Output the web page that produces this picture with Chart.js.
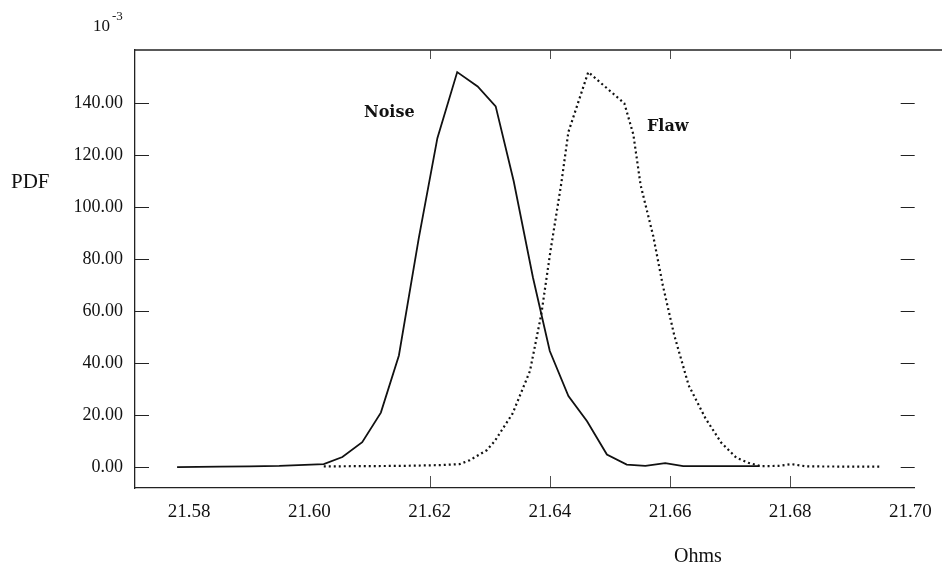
<!DOCTYPE html>
<html>
<head>
<meta charset="utf-8">
<script src="https://cdn.jsdelivr.net/npm/chart.js@4.4.1/dist/chart.umd.min.js"></script>
<style>
  html, body { margin: 0; padding: 0; background: #fff; }
  #wrap { width: 945px; height: 575px; }
</style>
</head>
<body>
<div id="wrap"><canvas id="chart-pdf" width="945" height="575"></canvas></div>
<script>
// Valeurs (PDF x 10^-3 en fonction de la résistance en ohms)
const noiseX = [21.578, 21.585, 21.590, 21.595, 21.6024, 21.6055, 21.6088, 21.6119, 21.6149, 21.6182,
                21.6213, 21.6246, 21.6280, 21.6310, 21.6340, 21.6372, 21.6400, 21.6431, 21.6462, 21.6495,
                21.6528, 21.6559, 21.6592, 21.6622, 21.6688, 21.6749];
const noiseY = [0, 0.2, 0.3, 0.5, 1.2, 3.9, 9.6, 21, 43, 88,
                126.6, 152, 146.5, 138.8, 110, 73, 44.7, 27.4, 17.7, 4.9,
                1.0, 0.5, 1.6, 0.4, 0.4, 0.4];

const flawX = [21.6024, 21.608, 21.615, 21.6217, 21.625, 21.6267, 21.6295, 21.6308, 21.6338, 21.6367,
               21.6386, 21.6401, 21.6419, 21.6431, 21.6464, 21.6524, 21.6539, 21.6551, 21.6572, 21.6588,
               21.6607, 21.6631, 21.6659, 21.6685, 21.6710, 21.6730, 21.6751, 21.6780, 21.6802, 21.6827,
               21.6950];
const flawY = [0.3, 0.4, 0.5, 0.8, 1.2, 2.7, 6.5, 9.9, 20.6, 37,
               59, 83, 109, 129, 152, 140, 128, 108.6, 89, 70,
               50.8, 31.5, 18.8, 9.5, 3.7, 1.7, 0.4, 0.5, 1.2, 0.3,
               0.2];

const xTicks = [21.58, 21.60, 21.62, 21.64, 21.66, 21.68, 21.70];
const yTicks = [0, 20, 40, 60, 80, 100, 120, 140];
const innerXTicks = [21.62, 21.64, 21.66, 21.68];

const SERIF = '"Liberation Serif", "Times New Roman", serif';

function toPoints(xs, ys) {
  return xs.map((x, i) => ({ x: x, y: ys[i] }));
}

// Cadre, graduations intérieures et annotations
const framePlugin = {
  id: 'frame',
  afterDraw(chart) {
    const ctx = chart.ctx;
    const area = chart.chartArea;
    const xs = chart.scales.x;
    const ys = chart.scales.y;
    ctx.save();
    ctx.strokeStyle = '#222';
    ctx.lineWidth = 1.3;

    // ligne du haut
    ctx.beginPath();
    ctx.moveTo(area.left, area.top);
    ctx.lineTo(942, area.top);
    ctx.stroke();

    // graduations gauche (intérieures) et droite
    ctx.lineWidth = 1.2;
    yTicks.forEach(v => {
      const py = Math.round(ys.getPixelForValue(v)) + 0.5;
      ctx.beginPath();
      ctx.moveTo(area.left, py);
      ctx.lineTo(area.left + 14, py);
      ctx.moveTo(area.right - 14, py);
      ctx.lineTo(area.right, py);
      ctx.stroke();
    });

    // graduations x, en bas et en haut
    ctx.lineWidth = 0.8;
    innerXTicks.forEach(v => {
      const px = Math.round(xs.getPixelForValue(v)) + 0.5;
      ctx.beginPath();
      ctx.moveTo(px, area.bottom);
      ctx.lineTo(px, area.bottom - 12);
      ctx.moveTo(px, area.top);
      ctx.lineTo(px, area.top + 9);
      ctx.stroke();
    });

    // textes
    ctx.fillStyle = '#111';
    ctx.textBaseline = 'middle';
    ctx.textAlign = 'left';
    ctx.font = '21px ' + SERIF;
    ctx.fillText('PDF', 11, 182);

    ctx.font = '17px ' + SERIF;
    ctx.fillText('10', 93, 27);
    ctx.font = '13px ' + SERIF;
    ctx.fillText('-3', 112, 17);

    ctx.font = '20px ' + SERIF;
    ctx.textAlign = 'center';
    ctx.fillText('Ohms', 698, 557);

    ctx.font = 'bold 16px "DejaVu Serif", serif';
    ctx.textAlign = 'left';
    ctx.fillText('Noise', 364, 113);
    ctx.fillText('Flaw', 647, 127);
    ctx.restore();
  }
};

const ctxPdf = document.getElementById('chart-pdf');
new Chart(ctxPdf, {
  type: 'line',
  data: {
    datasets: [{
      label: 'Noise',
      data: toPoints(noiseX, noiseY),
      borderColor: '#111',
      borderWidth: 1.8,
      pointRadius: 0,
      tension: 0,
      fill: false
    }, {
      label: 'Flaw',
      data: toPoints(flawX, flawY),
      borderColor: '#111',
      borderWidth: 2.2,
      borderDash: [2, 3],
      pointRadius: 0,
      tension: 0,
      fill: false
    }]
  },
  options: {
    responsive: false,
    animation: false,
    devicePixelRatio: 1,
    layout: { padding: { top: 50, right: 28, left: 0, bottom: 0 } },
    plugins: {
      legend: { display: false },
      tooltip: { enabled: false }
    },
    scales: {
      x: {
        type: 'linear',
        position: 'bottom',
        min: 21.571,
        max: 21.7007,
        afterFit: s => { s.height = 87; },
        afterBuildTicks: s => { s.ticks = xTicks.map(v => ({ value: v })); },
        grid: { display: false, drawTicks: false },
        border: { display: true, color: '#222', width: 1.3 },
        ticks: {
          autoSkip: false,
          maxRotation: 0,
          padding: 13,
          color: '#111',
          font: { family: SERIF, size: 19 },
          callback: v => Number(v).toFixed(2)
        }
      },
      y: {
        min: -8,
        max: 160.5,
        afterFit: s => { s.width = 135; },
        afterBuildTicks: s => { s.ticks = yTicks.map(v => ({ value: v })); },
        grid: { display: false, drawTicks: false },
        border: { display: true, color: '#222', width: 1.3 },
        ticks: {
          padding: 12,
          color: '#111',
          font: { family: SERIF, size: 18 },
          callback: v => Number(v).toFixed(2)
        }
      }
    }
  },
  plugins: [framePlugin]
});
</script>
</body>
</html>
